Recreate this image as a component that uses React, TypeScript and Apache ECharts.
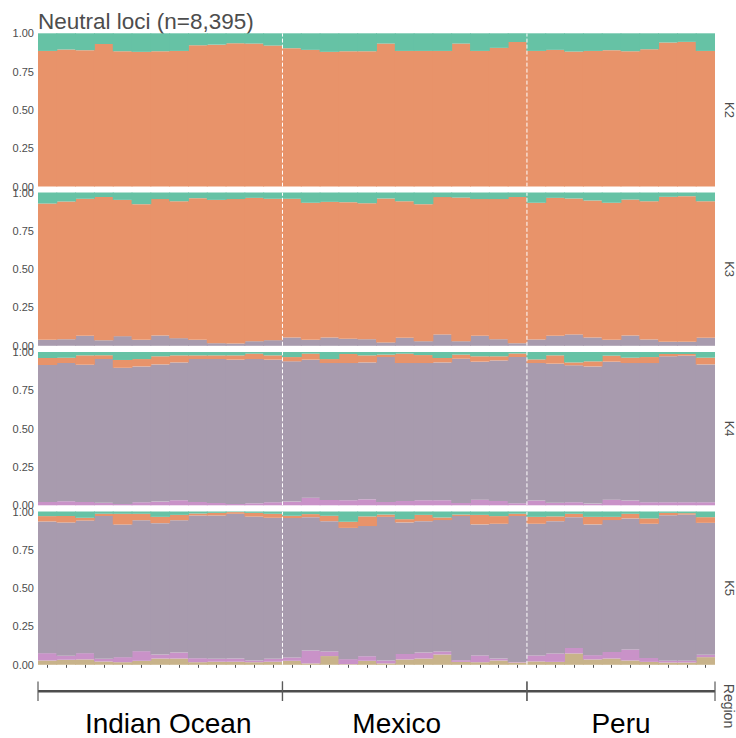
import React, { useEffect, useRef } from "react";
import * as echarts from "echarts";

// Sampling regions and number of individuals in each
const regions = ["Indian Ocean", "Mexico", "Peru"];
const regionSizes = [13, 13, 10];

// Y-axis ticks shared by every K panel
const yTicks = [0, 0.25, 0.5, 0.75, 1];

// Ancestry proportions per individual (columns in region order)
// K = 2
const k2Orange = [0.885, 0.894, 0.89, 0.93, 0.883, 0.879, 0.883, 0.885, 0.922, 0.926, 0.935, 0.933, 0.92, 0.903, 0.892, 0.879, 0.883, 0.883, 0.933, 0.885, 0.885, 0.885, 0.933, 0.885, 0.905, 0.944, 0.885, 0.892, 0.881, 0.885, 0.89, 0.883, 0.896, 0.94, 0.944, 0.885];
const k2Teal = [0.115, 0.106, 0.11, 0.07, 0.117, 0.121, 0.117, 0.115, 0.078, 0.074, 0.065, 0.067, 0.08, 0.097, 0.108, 0.121, 0.117, 0.117, 0.067, 0.115, 0.115, 0.115, 0.067, 0.115, 0.095, 0.056, 0.115, 0.108, 0.119, 0.115, 0.11, 0.117, 0.104, 0.06, 0.056, 0.115];

// K = 3
const k3Purple = [0.039, 0.043, 0.065, 0.037, 0.063, 0.039, 0.067, 0.05, 0.039, 0.017, 0.015, 0.03, 0.037, 0.054, 0.039, 0.054, 0.046, 0.043, 0.022, 0.052, 0.03, 0.074, 0.03, 0.065, 0.043, 0.017, 0.041, 0.065, 0.074, 0.054, 0.039, 0.067, 0.041, 0.026, 0.026, 0.052];
const k3Orange = [0.889, 0.898, 0.894, 0.933, 0.889, 0.885, 0.89, 0.893, 0.924, 0.935, 0.942, 0.935, 0.922, 0.905, 0.894, 0.885, 0.891, 0.887, 0.939, 0.891, 0.894, 0.896, 0.937, 0.892, 0.914, 0.953, 0.892, 0.9, 0.887, 0.894, 0.894, 0.887, 0.902, 0.946, 0.95, 0.891];
const k3Teal = [0.072, 0.059, 0.041, 0.03, 0.048, 0.076, 0.043, 0.057, 0.037, 0.048, 0.043, 0.035, 0.041, 0.041, 0.067, 0.061, 0.063, 0.07, 0.039, 0.057, 0.076, 0.03, 0.033, 0.043, 0.043, 0.03, 0.067, 0.035, 0.039, 0.052, 0.067, 0.046, 0.057, 0.028, 0.024, 0.057];

// K = 4
const k4Pink = [0.022, 0.026, 0.022, 0.017, 0.009, 0.02, 0.024, 0.033, 0.022, 0.015, 0.009, 0.013, 0.02, 0.024, 0.05, 0.035, 0.033, 0.039, 0.022, 0.028, 0.033, 0.033, 0.015, 0.037, 0.028, 0.013, 0.031, 0.017, 0.02, 0.011, 0.037, 0.031, 0.02, 0.02, 0.02, 0.02];
const k4Purple = [0.893, 0.902, 0.895, 0.937, 0.888, 0.886, 0.895, 0.899, 0.932, 0.939, 0.941, 0.941, 0.93, 0.915, 0.9, 0.893, 0.895, 0.893, 0.945, 0.9, 0.895, 0.899, 0.941, 0.9, 0.917, 0.954, 0.897, 0.907, 0.893, 0.895, 0.9, 0.897, 0.908, 0.952, 0.956, 0.899];
const k4Orange = [0.046, 0.035, 0.061, 0.024, 0.051, 0.048, 0.053, 0.046, 0.024, 0.024, 0.028, 0.035, 0.028, 0.028, 0.039, 0.026, 0.059, 0.046, 0.016, 0.061, 0.052, 0.029, 0.027, 0.035, 0.027, 0.024, 0.024, 0.054, 0.019, 0.033, 0.039, 0.035, 0.039, 0.015, 0.011, 0.044];
const k4Teal = [0.039, 0.037, 0.022, 0.022, 0.052, 0.046, 0.028, 0.022, 0.022, 0.022, 0.022, 0.011, 0.022, 0.033, 0.011, 0.046, 0.013, 0.022, 0.017, 0.011, 0.02, 0.039, 0.017, 0.028, 0.028, 0.009, 0.048, 0.022, 0.068, 0.061, 0.024, 0.037, 0.033, 0.013, 0.013, 0.037];

// K = 5
const k5Tan = [0.028, 0.033, 0.035, 0.022, 0.017, 0.026, 0.041, 0.041, 0.017, 0.02, 0.02, 0.017, 0.02, 0.026, 0.009, 0.057, 0.004, 0.026, 0.009, 0.035, 0.041, 0.067, 0.019, 0.017, 0.028, 0.015, 0.022, 0.019, 0.074, 0.035, 0.041, 0.028, 0.019, 0.015, 0.015, 0.05];
const k5Pink = [0.048, 0.026, 0.041, 0.017, 0.033, 0.063, 0.026, 0.039, 0.026, 0.019, 0.021, 0.011, 0.019, 0.022, 0.084, 0.03, 0.033, 0.03, 0.019, 0.036, 0.039, 0.02, 0.011, 0.044, 0.013, 0.004, 0.039, 0.055, 0.036, 0.028, 0.043, 0.072, 0.026, 0.011, 0.011, 0.015];
const k5Purple = [0.859, 0.869, 0.865, 0.931, 0.865, 0.854, 0.857, 0.863, 0.931, 0.935, 0.944, 0.939, 0.92, 0.909, 0.87, 0.85, 0.856, 0.849, 0.937, 0.858, 0.857, 0.857, 0.94, 0.855, 0.879, 0.951, 0.859, 0.863, 0.853, 0.853, 0.86, 0.855, 0.875, 0.95, 0.954, 0.861];
const k5Orange = [0.035, 0.042, 0.018, 0.015, 0.07, 0.042, 0.041, 0.035, 0.013, 0.017, 0.011, 0.024, 0.026, 0.015, 0.02, 0.035, 0.04, 0.063, 0.015, 0.021, 0.041, 0.017, 0.01, 0.062, 0.05, 0.015, 0.045, 0.031, 0.022, 0.049, 0.021, 0.03, 0.035, 0.015, 0.009, 0.037];
const k5Teal = [0.03, 0.03, 0.041, 0.015, 0.015, 0.015, 0.035, 0.022, 0.013, 0.009, 0.004, 0.009, 0.015, 0.028, 0.017, 0.028, 0.067, 0.032, 0.02, 0.05, 0.022, 0.039, 0.02, 0.022, 0.03, 0.015, 0.035, 0.032, 0.015, 0.035, 0.035, 0.015, 0.045, 0.009, 0.011, 0.037];

const COLORS: Record<string, string> = {
  teal: "#66c2a5",
  orange: "#e8936a",
  purple: "#a89bae",
  pink: "#c992c8",
  tan: "#c8b38a",
};

const FONT = "'Liberation Sans', Arial, Helvetica, sans-serif";
const TEXT_GREY = "#4d4d4d";

// Panels, bottom layer first
const panels: { label: string; layers: [string, number[]][] }[] = [
  { label: "K2", layers: [["orange", k2Orange], ["teal", k2Teal]] },
  { label: "K3", layers: [["purple", k3Purple], ["orange", k3Orange], ["teal", k3Teal]] },
  { label: "K4", layers: [["pink", k4Pink], ["purple", k4Purple], ["orange", k4Orange], ["teal", k4Teal]] },
  { label: "K5", layers: [["tan", k5Tan], ["pink", k5Pink], ["purple", k5Purple], ["orange", k5Orange], ["teal", k5Teal]] },
];

// Layout
const W = 736;
const H = 738;
const LEFT = 38;
const RIGHT = 21;
const PANEL_TOPS = [33.3, 192.5, 352, 511.5];
const PANEL_H = 153.3;
const REGION_TOP = 681.5;
const REGION_H = 19.5;
const REGION_LABEL_DX = [8, -8, 0];

function buildOption() {
  const individuals = regions.flatMap((r, ri) =>
    Array.from({ length: regionSizes[ri] }, (_, i) => `${r} ${i + 1}`)
  );
  const n = individuals.length;
  const cum: number[] = [0];
  regionSizes.forEach((s) => cum.push(cum[cum.length - 1] + s));
  const innerBounds = cum.slice(1, -1);
  // each bar slightly wider than its band so neighbouring bars meet without seams
  const barPx = (W - LEFT - RIGHT) / n + 0.9;

  const grid: any[] = [];
  const xAxis: any[] = [];
  const yAxis: any[] = [];
  const series: any[] = [];

  panels.forEach((p, i) => {
    const isLast = i === panels.length - 1;
    grid.push({ left: LEFT, right: RIGHT, top: PANEL_TOPS[i], height: PANEL_H });
    xAxis.push({
      type: "category",
      gridIndex: i,
      data: individuals,
      boundaryGap: true,
      axisLine: { show: false },
      axisTick: {
        show: isLast,
        alignWithLabel: true,
        interval: 0,
        length: 3,
        lineStyle: { color: "#555", width: 1 },
      },
      axisLabel: { show: false, interval: 0 },
      splitLine: { show: false },
    });
    xAxis.push({ type: "value", gridIndex: i, min: 0, max: n, show: false });
    yAxis.push({
      type: "value",
      gridIndex: i,
      min: yTicks[0],
      max: yTicks[yTicks.length - 1],
      interval: yTicks[1] - yTicks[0],
      axisLine: { show: false },
      axisTick: { show: false },
      splitLine: { show: false },
      axisLabel: {
        formatter: (v: number) => v.toFixed(2),
        color: TEXT_GREY,
        fontSize: 11,
        fontFamily: FONT,
        margin: 4,
        showMinLabel: true,
        showMaxLabel: true,
      },
    });

    p.layers.forEach(([color, values]) => {
      series.push({
        type: "bar",
        name: `${p.label} ${color}`,
        xAxisIndex: 2 * i,
        yAxisIndex: i,
        stack: p.label,
        data: values,
        barWidth: barPx,
        silent: true,
        itemStyle: { color: COLORS[color] },
      });
    });

    // dashed separators between regions
    series.push({
      type: "custom",
      xAxisIndex: 2 * i + 1,
      yAxisIndex: i,
      silent: true,
      z: 10,
      data: innerBounds.map((b) => [b, 0]),
      renderItem: (_params: any, api: any) => {
        const x = api.value(0);
        const a = api.coord([x, 0]);
        const b = api.coord([x, 1]);
        return {
          type: "line",
          shape: { x1: a[0], y1: a[1], x2: b[0], y2: b[1] },
          style: { stroke: "#ffffff", lineWidth: 1, lineDash: [4, 2] },
        };
      },
    });
  });

  // region bracket axis
  const ri = panels.length;
  grid.push({ left: LEFT, right: RIGHT, top: REGION_TOP, height: REGION_H });
  xAxis.push({ type: "value", gridIndex: ri, min: 0, max: n, show: false });
  yAxis.push({ type: "value", gridIndex: ri, min: -1, max: 1, show: false });
  series.push({
    type: "custom",
    xAxisIndex: xAxis.length - 1,
    yAxisIndex: yAxis.length - 1,
    silent: true,
    data: regions.map((_, k) => [cum[k], cum[k + 1], k]),
    renderItem: (_params: any, api: any) => {
      const s = api.value(0);
      const e = api.value(1);
      const k = api.value(2);
      const a = api.coord([s, 0]);
      const b = api.coord([e, 0]);
      const aTop = api.coord([s, 1]);
      const aBot = api.coord([s, -1]);
      const bTop = api.coord([e, 1]);
      const bBot = api.coord([e, -1]);
      return {
        type: "group",
        children: [
          {
            type: "line",
            shape: { x1: a[0], y1: a[1], x2: b[0], y2: b[1] },
            style: { stroke: "#4d4d4d", lineWidth: 2.7 },
          },
          {
            type: "line",
            shape: { x1: aTop[0], y1: aTop[1], x2: aBot[0], y2: aBot[1] },
            style: { stroke: "#5a5a5a", lineWidth: 1.2 },
          },
          {
            type: "line",
            shape: { x1: bTop[0], y1: bTop[1], x2: bBot[0], y2: bBot[1] },
            style: { stroke: "#5a5a5a", lineWidth: 1.2 },
          },
          {
            type: "text",
            style: {
              text: regions[k],
              x: (a[0] + b[0]) / 2 + REGION_LABEL_DX[k],
              y: a[1] + 32,
              align: "center",
              verticalAlign: "middle",
              fontSize: 28,
              fontFamily: FONT,
              fill: "#000000",
            },
          },
        ],
      };
    },
  });

  const graphic: any[] = [
    {
      type: "text",
      x: LEFT,
      y: 21,
      style: {
        text: "Neutral loci (n=8,395)",
        fontSize: 22.5,
        fontFamily: FONT,
        fill: TEXT_GREY,
        align: "left",
        verticalAlign: "middle",
      },
    },
    ...panels.map((p, i) => ({
      type: "text",
      x: 729,
      y: PANEL_TOPS[i] + PANEL_H / 2,
      rotation: -Math.PI / 2,
      style: {
        text: p.label,
        fontSize: 13,
        fontFamily: FONT,
        fill: TEXT_GREY,
        align: "center",
        verticalAlign: "middle",
      },
    })),
    {
      type: "text",
      x: 729,
      y: 706,
      rotation: -Math.PI / 2,
      style: {
        text: "Region",
        fontSize: 14,
        fontFamily: FONT,
        fill: TEXT_GREY,
        align: "center",
        verticalAlign: "middle",
      },
    },
  ];

  return {
    animation: false,
    backgroundColor: "#ffffff",
    grid,
    xAxis,
    yAxis,
    series,
    graphic,
  };
}

export default function App() {
  const ref = useRef<HTMLDivElement>(null);
  useEffect(() => {
    if (!ref.current) return;
    const chart = echarts.init(ref.current, undefined, { renderer: "svg" });
    chart.setOption(buildOption() as any);
    return () => chart.dispose();
  }, []);
  return (
    <div
      ref={ref}
      style={{ position: "fixed", left: 0, top: 0, width: W, height: H, background: "#fff" }}
    />
  );
}
